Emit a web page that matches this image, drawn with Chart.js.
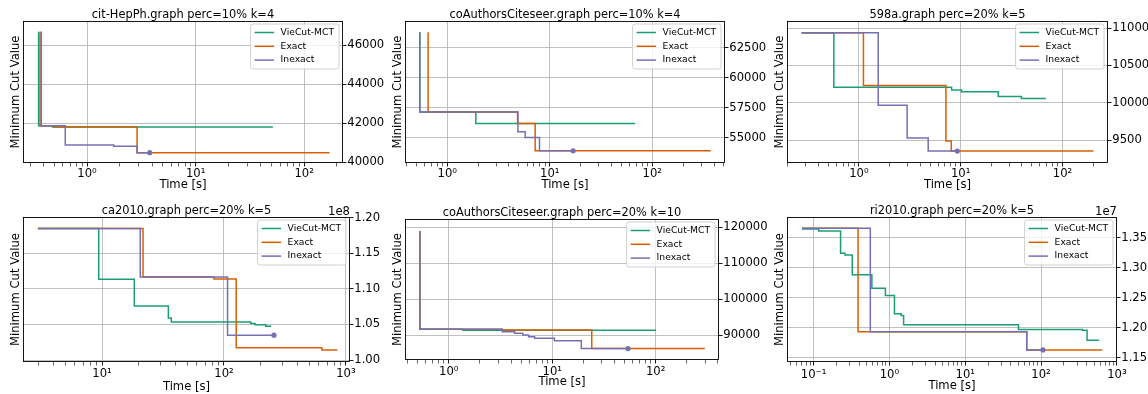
<!DOCTYPE html>
<html>
<head>
<meta charset="utf-8">
<script src="https://cdn.jsdelivr.net/npm/chart.js@4.4.1/dist/chart.umd.min.js"></script>
<style>
  body { margin: 0; background: #fff; }
  #wrap { position: relative; width: 1148px; height: 394px; overflow: hidden; }
  #wrap canvas { position: absolute; }
</style>
</head>
<body>
<div id="wrap"></div>
<script>
/* ---------- series ---------- */
const seriesNames = ["VieCut-MCT", "Exact", "Inexact"];
const seriesColors = ["#1b9e77", "#d95f02", "#7570b3"];

const titles = [
  "cit-HepPh.graph perc=10% k=4",
  "coAuthorsCiteseer.graph perc=10% k=4",
  "598a.graph perc=20% k=5",
  "ca2010.graph perc=20% k=5",
  "coAuthorsCiteseer.graph perc=20% k=10",
  "ri2010.graph perc=20% k=5"
];

// [time in s, minimum cut value]
const citVie = [[0.356, 46650], [0.358, 41870], [0.48, 41815], [51.5, 41815]];
const citExact = [[0.367, 46650], [0.369, 41870], [0.5, 41815], [2.89, 40497], [171, 40497]];
const citInexact = [[0.377, 46650], [0.379, 41870], [0.63, 40892], [1.76, 40820], [2.89, 40497], [3.78, 40497]];

const co4Vie = [[0.537, 63750], [0.54, 57133], [1.9, 56167], [68, 56167]];
const co4Exact = [[0.647, 63750], [0.65, 57133], [4.85, 56167], [7.2, 53892], [372, 53892]];
const co4Inexact = [[0.537, 63750], [0.54, 57133], [4.89, 55475], [5.76, 55000], [7.94, 53892], [16.9, 53892]];

const a598Vie = [[0.274, 10937], [0.568, 10207], [8.15, 10171], [10.2, 10148], [23.4, 10082], [39.5, 10055], [68.7, 10055]];
const a598Exact = [[0.274, 10937], [1.11, 10229], [7.17, 9487], [8.09, 9352], [202, 9352]];
const a598Inexact = [[0.274, 10937], [1.55, 9967], [2.98, 9529], [4.8, 9352], [9.27, 9352]];

const caVie = [[2.98, 1.1847e8], [9.4, 1.1135e8], [18.4, 1.0759e8], [35, 1.0591e8], [37, 1.0535e8], [166, 1.0512e8], [180, 1.0494e8], [220, 1.0474e8], [244, 1.0474e8]];
const caExact = [[2.98, 1.1847e8], [21.7, 1.1167e8], [82.8, 1.1139e8], [126, 1.0173e8], [635, 1.0139e8], [850, 1.0139e8]];
const caInexact = [[2.98, 1.1847e8], [20.6, 1.1167e8], [107, 1.0349e8], [257, 1.0349e8]];

const co10Vie = [[0.52, 118780], [0.525, 91670], [1.37, 91400], [101, 91400]];
const co10Exact = [[0.52, 118780], [0.525, 91670], [3.29, 91450], [24.1, 86300], [298, 86300]];
const co10Inexact = [[0.52, 118780], [0.525, 91670], [3.29, 91000], [4.33, 90550], [5.2, 90080], [5.91, 89610], [6.76, 89160], [10.5, 88500], [19.1, 86300], [54, 86300]];

const riVie = [[0.0703, 1.365e7], [0.1166, 1.3617e7], [0.227, 1.3243e7], [0.259, 1.3217e7], [0.324, 1.2883e7], [0.587, 1.2661e7], [0.885, 1.2539e7], [1.166, 1.2233e7], [1.43, 1.2206e7], [1.54, 1.205e7], [50.4, 1.197e7], [352, 1.1957e7], [405, 1.179e7], [585, 1.179e7]];
const riExact = [[0.0703, 1.366e7], [0.386, 1.1933e7], [64.8, 1.1628e7], [641, 1.1628e7]];
const riInexact = [[0.0703, 1.366e7], [0.56, 1.1933e7], [64.8, 1.1628e7], [106, 1.1628e7]];

/* ---------- axes ---------- */
const citYTicks = [40000, 42000, 44000, 46000];
const co4YTicks = [55000, 57500, 60000, 62500];
const a598YTicks = [9500, 10000, 10500, 11000];
const caYTicks = [1.00e8, 1.05e8, 1.10e8, 1.15e8, 1.20e8];
const co10YTicks = [90000, 100000, 110000, 120000];
const riYTicks = [1.15e7, 1.20e7, 1.25e7, 1.30e7, 1.35e7];

// box = plot area [left, top, right, bottom] on the page
const panels = [
  { title: titles[0], data: [citVie, citExact, citInexact], x: [0.257, 228], y: [39970, 47230], yTicks: citYTicks, box: [23, 21, 343, 163], xPad: 0.5, xTitle: 22.4 },
  { title: titles[1], data: [co4Vie, co4Exact, co4Inexact], x: [0.387, 512], y: [52870, 64725], yTicks: co4YTicks, box: [405, 21, 725, 163], xPad: 0.5, xTitle: 22.4 },
  { title: titles[2], data: [a598Vie, a598Exact, a598Inexact], x: [0.197, 280], y: [9193, 11094], yTicks: a598YTicks, box: [787, 21, 1108, 163], xPad: 0.5, xTitle: 22.4 },
  { title: titles[3], data: [caVie, caExact, caInexact], x: [2.25, 1080], y: [0.9972e8, 1.201e8], yTicks: caYTicks, box: [23, 217, 350, 362], xPad: 1.5, xTitle: 24.5, scale: 1e8 },
  { title: titles[4], data: [co10Vie, co10Exact, co10Inexact], x: [0.378, 409], y: [83140, 122300], yTicks: co10YTicks, box: [405, 219, 719, 360], xPad: 1.3, xTitle: 21.8 },
  { title: titles[5], data: [riVie, riExact, riInexact], x: [0.0446, 1005], y: [1.1427e7, 1.385e7], yTicks: riYTicks, box: [787, 217, 1117, 362], xPad: 2.2, xTitle: 24, scale: 1e7 }
];

const FONT = "DejaVu Sans";
const FS = 11.6;
Chart.defaults.font.family = FONT;
Chart.defaults.font.size = FS;
Chart.defaults.color = "#000";

const L = 23, R = 48, T = 21, B = 31;
const HALF_LH = FS * 1.2 / 2;

function sup(n) {
  const m = { "-": "\u207b", "0": "\u2070", "1": "\u00b9", "2": "\u00b2", "3": "\u00b3" };
  return String(n).split("").map(c => m[c]).join("");
}
function isDecade(v) {
  const l = Math.log10(v);
  return Math.abs(l - Math.round(l)) < 1e-6;
}
function logTicks(min, max) {
  const out = [];
  for (let e = Math.floor(Math.log10(min)); e <= Math.ceil(Math.log10(max)); e++) {
    for (let k = 1; k <= 9; k++) {
      const v = k * Math.pow(10, e);
      if (v >= min && v <= max) out.push({ value: v });
    }
  }
  return out;
}

// spines, title, offset text and the in-plot legend
const decor = {
  id: "decor",
  afterDraw(chart, args, opts) {
    const { ctx, chartArea: a } = chart;
    ctx.save();
    ctx.strokeStyle = "#000";
    ctx.lineWidth = 0.9;
    ctx.strokeRect(Math.floor(a.left) + 0.5, Math.floor(a.top) + 0.5, Math.round(a.right - a.left) - 1, Math.round(a.bottom - a.top) - 1);

    ctx.fillStyle = "#000";
    ctx.font = '11.4px "' + FONT + '"';
    ctx.textAlign = "center";
    ctx.textBaseline = "alphabetic";
    ctx.fillText(opts.title, (a.left + a.right) / 2, a.top - 3.5);
    if (opts.offset) {
      ctx.font = FS + 'px "' + FONT + '"';
      ctx.textAlign = "right";
      ctx.fillText(opts.offset, a.right, a.top - 2);
    }

    // legend
    const sets = chart.data.datasets;
    ctx.font = '9.2px "' + FONT + '"';
    const tw = Math.max(...sets.map(d => ctx.measureText(d.label).width));
    const bw = 30 + tw + 5, bh = 45;
    const bx = a.right - 4 - bw, by = a.top + 3;
    ctx.beginPath();
    if (ctx.roundRect) ctx.roundRect(bx, by, bw, bh, 2.5); else ctx.rect(bx, by, bw, bh);
    ctx.fillStyle = "rgba(255,255,255,0.8)";
    ctx.fill();
    ctx.strokeStyle = "#d0d0d0";
    ctx.lineWidth = 1;
    ctx.stroke();
    sets.forEach((d, k) => {
      const yy = by + 8.5 + k * 13.8;
      ctx.strokeStyle = d.borderColor;
      ctx.lineWidth = 1.5;
      ctx.beginPath();
      ctx.moveTo(bx + 4, yy);
      ctx.lineTo(bx + 23.5, yy);
      ctx.stroke();
      ctx.fillStyle = "#000";
      ctx.textAlign = "left";
      ctx.textBaseline = "middle";
      ctx.fillText(d.label, bx + 30, yy);
    });
    ctx.restore();
  }
};

const wrap = document.getElementById("wrap");

panels.forEach(p => {
  const [l, t, r, b] = p.box;
  const W = r - l + L + R, H = b - t + T + B;
  const cv = document.createElement("canvas");
  cv.width = W; cv.height = H;
  cv.style.left = (l - L) + "px";
  cv.style.top = (t - T) + "px";
  cv.style.width = W + "px";
  cv.style.height = H + "px";
  wrap.appendChild(cv);

  new Chart(cv, {
    type: "line",
    data: {
      datasets: p.data.map((pts, k) => ({
        label: seriesNames[k],
        data: pts.map(([x, y]) => ({ x, y })),
        borderColor: seriesColors[k],
        backgroundColor: seriesColors[k],
        borderWidth: 1.5,
        stepped: "before",
        fill: false,
        pointRadius: c => (k === 2 && c.dataIndex === pts.length - 1) ? 2.6 : 0,
        pointBorderWidth: 0,
        order: 3 - k,
        yAxisID: "y"
      }))
    },
    options: {
      responsive: false,
      animation: false,
      events: [],
      layout: { padding: { top: T, left: 0, right: 0, bottom: 0 } },
      plugins: {
        legend: { display: false },
        tooltip: { enabled: false },
        decor: { title: p.title, offset: p.scale ? "1e" + Math.round(Math.log10(p.scale)) : null }
      },
      scales: {
        x: {
          type: "logarithmic",
          position: "bottom",
          min: p.x[0],
          max: p.x[1],
          afterBuildTicks: s => { s.ticks = logTicks(p.x[0], p.x[1]); },
          afterFit: s => { s.height = B; },
          ticks: {
            autoSkip: false,
            maxRotation: 0,
            minRotation: 0,
            padding: p.xPad,
            callback: v => isDecade(v) ? "10" + sup(Math.round(Math.log10(v))) : ""
          },
          grid: {
            color: c => (c.tick && isDecade(c.tick.value)) ? "#b0b0b0" : "rgba(0,0,0,0)",
            lineWidth: 0.8,
            tickLength: 3.5,
            tickColor: "#000",
            tickWidth: c => (c.tick && isDecade(c.tick.value)) ? 0.9 : 0.6
          },
          border: { display: false },
          title: { display: true, text: "Time [s]", padding: { top: 0, bottom: B - p.xTitle - HALF_LH } }
        },
        y: {
          position: "right",
          min: p.y[0],
          max: p.y[1],
          afterBuildTicks: s => { s.ticks = p.yTicks.map(v => ({ value: v })); },
          afterFit: s => { s.width = R; },
          ticks: {
            padding: 0.8,
            callback: v => p.scale ? (v / p.scale).toFixed(2) : String(v)
          },
          grid: { color: "#b0b0b0", lineWidth: 0.8, tickLength: 3.5, tickColor: "#000", tickWidth: 0.9 },
          border: { display: false }
        },
        yl: {
          position: "left",
          afterFit: s => { s.width = L; },
          ticks: { display: false },
          grid: { display: false },
          border: { display: false },
          title: { display: true, text: "Minimum Cut Value", padding: { top: 15.5 - HALF_LH, bottom: 0 } }
        }
      }
    },
    plugins: [decor]
  });
});
</script>
</body>
</html>
